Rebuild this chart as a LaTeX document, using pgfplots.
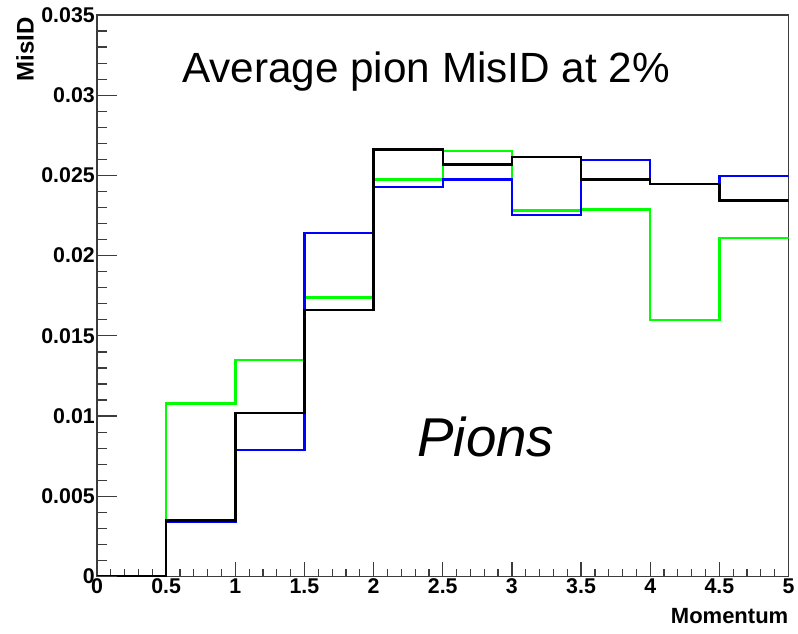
\documentclass[border=0pt]{standalone}
\usepackage{fontspec}
\setmainfont{Liberation Sans}
\usepackage{pgfplots}
\pgfplotsset{compat=1.18}
\definecolor{rootgreen}{RGB}{0,255,0}
\definecolor{rootblue}{RGB}{0,0,255}
\definecolor{axgray}{RGB}{60,60,60}

\pgfplotsset{
    rootframe/.style={
        scale only axis,
        width=518.6pt, height=421.1pt,
        xmin=0, xmax=5, ymin=0, ymax=0.035,
        axis line style={axgray, line width=1pt},
        tick style={axgray, line width=0.9pt},
        tick align=inside,
        xtick pos=bottom, ytick pos=left,
        /pgf/number format/assume math mode=true,
        ticklabel style={font=\bfseries\fontsize{16}{16}\selectfont, inner sep=1.5pt},
    },
}

\begin{document}
\begin{tikzpicture}
% x ticks and data
\begin{axis}[
    name=ax,
    rootframe,
    major tick length=11.25pt, minor tick length=6pt,
    minor x tick num=4,
    xtick={0,0.5,1,1.5,2,2.5,3,3.5,4,4.5,5},
    xticklabels={0,0.5,1,1.5,2,2.5,3,3.5,4,4.5,5},
    ytick=\empty,
    xlabel={Momentum},
    xlabel style={at={(rel axis cs:1,-0.0828)}, anchor=base east, inner sep=0pt,
        font=\bfseries\fontsize{16.5}{16.5}\selectfont},
]
% green
\addplot[const plot mark left, rootgreen, line width=1.9pt] coordinates {
    (0,0) (0.5,0.0108) (1,0.0135) (1.5,0.0174) (2,0.02475) (2.5,0.02652)
    (3,0.0228) (3.5,0.02288) (4,0.016) (4.5,0.0211) (5,0.0211)};
% blue
\addplot[const plot mark left, rootblue, line width=1.9pt] coordinates {
    (0,0) (0.5,0.0034) (1,0.0079) (1.5,0.0214) (2,0.02427) (2.5,0.02475)
    (3,0.02252) (3.5,0.02596) (4,0.02448) (4.5,0.02496) (5,0.02496)};
% black
\addplot[const plot mark left, black, line width=1.9pt] coordinates {
    (0,0) (0.5,0.0035) (1,0.0102) (1.5,0.0166) (2,0.0266) (2.5,0.02569)
    (3,0.02615) (3.5,0.02475) (4,0.02448) (4.5,0.02344) (5,0.02344)};

\node[anchor=base west, inner sep=0pt, font=\fontsize{31.7}{31.7}\selectfont]
    at (axis cs:0.613,0.03079) {Average pion MisID at 2\%};
\node[anchor=base west, inner sep=0pt, font=\itshape\fontsize{41}{41}\selectfont]
    at (axis cs:2.315,0.00746) {Pions};
\end{axis}
% y ticks (longer, as ROOT scales them with the axis length)
\begin{axis}[
    rootframe,
    axis line style={draw=none},
    major tick length=15pt, minor tick length=7.5pt,
    minor y tick num=4,
    xtick=\empty,
    ytick={0,0.005,0.01,0.015,0.02,0.025,0.03,0.035},
    yticklabels={0,0.005,0.01,0.015,0.02,0.025,0.03,0.035},
    ylabel={MisID},
    ylabel style={at={(rel axis cs:-0.1041,0.9964)}, anchor=east, inner sep=0pt,
        font=\bfseries\fontsize{18}{18}\selectfont},
]
\end{axis}
\pgfresetboundingbox
\path ([xshift=-72.75pt,yshift=-43.1pt]ax.south west) rectangle ([xshift=7.1pt,yshift=11.25pt]ax.north east);
\end{tikzpicture}
\end{document}
